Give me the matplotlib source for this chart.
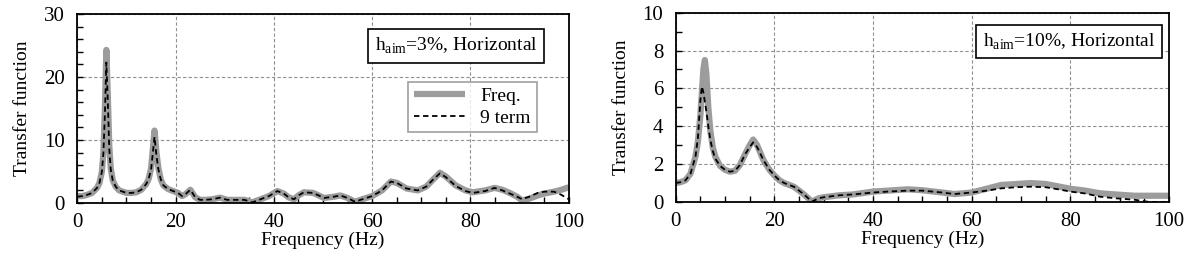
import numpy as np
import matplotlib
matplotlib.use('Agg')
import matplotlib.pyplot as plt
from matplotlib.ticker import MultipleLocator

plt.rcParams['font.family'] = ['Liberation Serif', 'DejaVu Serif']
plt.rcParams['mathtext.fontset'] = 'custom'
plt.rcParams['mathtext.rm'] = 'Liberation Serif'
plt.rcParams['font.size'] = 13

# left panel: h_aim = 3 %
freq_a = [0, 1, 2, 3, 4, 4.5, 5, 5.3, 5.6, 5.9, 6.2, 6.5, 6.8, 7.2, 7.8, 8.5, 10, 11, 12, 13,
          14, 14.5, 15, 15.3, 15.7, 16.1, 16.5, 17, 17.5, 18.5, 19.5, 20.5, 21.3, 22, 23, 24, 25, 26, 27.5, 29,
          30.5, 32, 34, 35.6, 37.3, 39, 40.7, 42, 43, 44.1, 45, 46.1, 48, 50.2, 52.2, 53.5, 55, 56.5, 58, 60,
          62, 63.8, 65, 67, 69.3, 71, 72.5, 73.8, 75, 77, 79, 80.5, 83, 84.9, 86.5, 88, 89.5, 90.5, 92, 93.7,
          95, 97, 98.5, 100]
tf_freq_a = [1.1, 1.1, 1.3, 1.6, 2.4, 3.2, 5, 8, 15, 24.3, 17, 9, 5.5, 3.6, 2.6, 2.0, 1.6, 1.6, 1.7, 2.1,
             3.0, 3.8, 5.5, 8, 11.5, 8, 5.5, 3.7, 2.8, 2.2, 1.9, 1.6, 1.1, 1.4, 2.1, 0.9, 0.5, 0.5, 0.6, 0.85,
             0.5, 0.5, 0.5, 0.1, 0.6, 1.1, 1.9, 1.5, 0.9, 0.6, 1.2, 1.7, 1.6, 0.8, 1.0, 1.2, 0.8, 0.2, 0.6, 1.1,
             2.0, 3.4, 3.2, 2.3, 2.0, 2.6, 3.8, 4.8, 4.2, 2.8, 2.0, 1.7, 2.0, 2.4, 2.1, 1.6, 1.0, 0.4, 0.7, 1.2,
             1.5, 1.8, 2.1, 2.5]
tf_9term_a = [1.0, 1.1, 1.3, 1.6, 2.4, 3.2, 5, 8, 14, 22.3, 16, 8.5, 5.3, 3.6, 2.6, 2.0, 1.6, 1.6, 1.7, 2.1,
              3.0, 3.8, 5.3, 7.5, 10.5, 7.5, 5.3, 3.7, 2.8, 2.2, 1.9, 1.6, 1.1, 1.4, 2.1, 0.9, 0.5, 0.5, 0.6, 0.85,
              0.5, 0.5, 0.5, 0.1, 0.6, 1.1, 1.9, 1.5, 0.9, 0.6, 1.2, 1.7, 1.6, 0.8, 1.0, 1.2, 0.8, 0.2, 0.6, 1.1,
              2.0, 3.4, 3.2, 2.3, 2.0, 2.6, 3.8, 4.7, 4.1, 2.7, 1.9, 1.6, 1.9, 2.4, 2.0, 1.5, 1.0, 0.6, 1.0, 1.6,
              1.8, 1.8, 1.3, 0.6]

# right panel: h_aim = 10 %
freq_b = [0, 1, 2, 3, 4, 4.5, 5, 5.3, 5.6, 5.9, 6.2, 6.6, 7, 7.5, 8, 9, 10, 11, 12, 13,
          14, 15, 15.7, 16.5, 17.8, 19, 20, 21, 22, 24, 26, 27.6, 29, 30, 33, 36, 40, 43, 47, 50,
          54, 56.5, 60, 63, 66, 69, 72, 75, 78, 80, 83, 86, 89, 93, 95.5, 97, 100]
tf_freq_b = [1.0, 1.05, 1.15, 1.5, 2.4, 3.2, 4.6, 5.8, 7.0, 7.5, 6.8, 5.0, 3.8, 2.9, 2.4, 1.9, 1.7, 1.6, 1.65, 1.95,
             2.5, 3.0, 3.3, 3.0, 2.2, 1.7, 1.4, 1.15, 1.0, 0.8, 0.4, 0.02, 0.2, 0.25, 0.35, 0.4, 0.55, 0.6, 0.67, 0.62,
             0.5, 0.42, 0.5, 0.7, 0.9, 0.95, 1.0, 0.95, 0.8, 0.7, 0.6, 0.46, 0.4, 0.33, 0.33, 0.33, 0.33]
tf_9term_b = [1.0, 1.05, 1.15, 1.5, 2.4, 3.4, 5.4, 6.1, 5.8, 5.3, 4.8, 4.0, 3.3, 2.7, 2.3, 1.9, 1.7, 1.6, 1.65, 1.95,
              2.5, 2.9, 3.15, 2.9, 2.2, 1.7, 1.4, 1.15, 1.0, 0.8, 0.4, 0.02, 0.2, 0.25, 0.35, 0.4, 0.5, 0.55, 0.6, 0.6,
              0.5, 0.42, 0.5, 0.6, 0.72, 0.78, 0.81, 0.78, 0.65, 0.55, 0.45, 0.28, 0.2, 0.12, 0.02, 0.0, 0.0]

fig = plt.figure(figsize=(11.92, 2.59), dpi=100)
ax1 = fig.add_axes([0.0649, 0.2162, 0.4122, 0.7297])
ax2 = fig.add_axes([0.5669, 0.2201, 0.4138, 0.7309])


def style(ax, ymax, ymajor, yminor):
    ax.set_xlim(0, 100)
    ax.set_ylim(0, ymax)
    ax.xaxis.set_major_locator(MultipleLocator(20))
    ax.xaxis.set_minor_locator(MultipleLocator(5))
    ax.yaxis.set_major_locator(MultipleLocator(ymajor))
    ax.yaxis.set_minor_locator(MultipleLocator(yminor))
    ax.tick_params(which='both', direction='in', length=4, width=1, color='black')
    ax.tick_params(axis='y', pad=9, labelsize=15)
    ax.tick_params(axis='x', pad=7, labelsize=15)
    ax.grid(True, which='major', color='#909090', linestyle=(0, (3, 2)), linewidth=0.8)
    ax.set_axisbelow(True)
    for s in ax.spines.values():
        s.set_linewidth(1.3)
        s.set_color('black')
    ax.set_xlabel('Frequency (Hz)', fontsize=14, labelpad=0)
    ax.set_ylabel('Transfer function', fontsize=14, labelpad=9)


ax1.plot(freq_a, tf_freq_a, color='#9c9c9c', lw=4.5, solid_capstyle='butt', label='Freq.')
ax1.plot(freq_a, tf_9term_a, color='black', lw=1.3, linestyle=(0, (3, 2)), label='9 term')
style(ax1, 30, 10, 2)
ax1.text(0.771, 0.831, r'h$_\mathrm{aim}$=3%, Horizontal', transform=ax1.transAxes,
         ha='center', va='center', fontsize=14,
         bbox=dict(boxstyle='square,pad=0.35', fc='white', ec='black', lw=1.2))
leg = ax1.legend(loc='upper right', bbox_to_anchor=(0.935, 0.642), frameon=True, fancybox=False,
                 fontsize=14, handlelength=2.6, borderaxespad=0, borderpad=0.3, labelspacing=0.2)
leg.get_frame().set_edgecolor('#888888')
leg.get_frame().set_linewidth(1.2)

ax2.plot(freq_b, tf_freq_b, color='#9c9c9c', lw=4.5, solid_capstyle='butt')
ax2.plot(freq_b, tf_9term_b, color='black', lw=1.3, linestyle=(0, (3, 2)))
style(ax2, 10, 2, 1)
ax2.text(0.798, 0.848, r'h$_\mathrm{aim}$=10%, Horizontal', transform=ax2.transAxes,
         ha='center', va='center', fontsize=14,
         bbox=dict(boxstyle='square,pad=0.35', fc='white', ec='black', lw=1.2))

fig.savefig('out.png', dpi=100)
